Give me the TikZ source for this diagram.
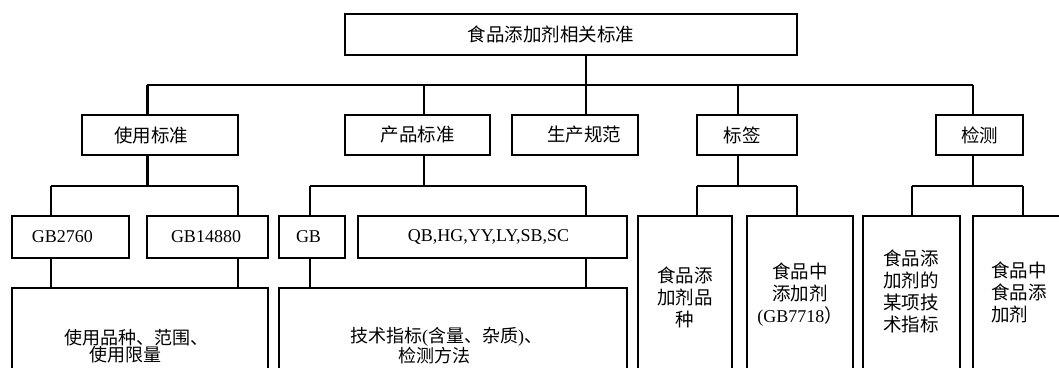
\documentclass[tikz,border=0pt]{standalone}
\usepackage{fontspec}
\setmainfont{Liberation Serif}
\newfontfamily\cjk{Noto Sans CJK SC}
\newcommand\fs{\fontsize{18.5}{22}\selectfont}
\newcommand\fl{\fontsize{18}{22}\selectfont}
\begin{document}
\begin{tikzpicture}[x=1pt,y=-1pt,
  box/.style={draw, line width=1.5pt, inner sep=0pt, font=\fs},
  latbox/.style={box, font=\fl},
  openbox/.style={draw=none, inner sep=0pt},
  conn/.style={line width=1.5pt},
  thickconn/.style={line width=3pt},
  txt/.style={font=\fs, align=center, inner sep=0pt}]
\useasboundingbox (0,0) rectangle (1059,367);
% level 1
\node[box, minimum width=452pt, minimum height=41pt] (top) at (571,34.5) {\cjk 食品添加剂相关标准\kern40pt};
% level 2
\node[box, minimum width=156pt, minimum height=40pt] (sy) at (160,135) {\cjk 使用标准\kern18pt};
\node[box, minimum width=145pt, minimum height=40pt] (cp) at (417.5,135) {\cjk 产品标准};
\node[box, minimum width=126pt, minimum height=40pt] (sc) at (575,135) {\kern18pt\cjk 生产规范};
\node[box, minimum width=100pt, minimum height=40pt] (bq) at (747,135) {\cjk 标签\kern10pt};
\node[box, minimum width=87pt, minimum height=40pt] (jc) at (979.5,135) {\cjk 检测};
% level 3
\node[latbox, minimum width=117pt, minimum height=42pt] (g1) at (70.5,237) {GB2760\kern16pt};
\node[latbox, minimum width=121pt, minimum height=42pt] (g2) at (207.5,237) {GB14880\kern3pt};
\node[latbox, minimum width=66pt, minimum height=42pt] (g3) at (312,237) {GB\kern7pt};
\node[latbox, minimum width=269pt, minimum height=42pt] (g4) at (492.5,237) {QB,HG,YY,LY,SB,SC\kern8pt};
% open boxes (bottom cut off)
\node[openbox, minimum width=256pt, minimum height=90pt] (u1) at (140,333) {};
\node[openbox, minimum width=348pt, minimum height=90pt] (u2) at (453,333) {};
\node[openbox, minimum width=94pt, minimum height=160pt] (t1) at (685,296) {};
\node[openbox, minimum width=106pt, minimum height=160pt] (t2) at (800,296) {};
\node[openbox, minimum width=97pt, minimum height=160pt] (t3) at (911.5,296) {};
\node[openbox, minimum width=110pt, minimum height=160pt] (t4) at (1028,296) {};
\foreach \b in {u1,u2,t1,t2,t3}{
  \draw[conn] (\b.south west) |- (\b.north east) -- (\b.south east);
}
\draw[conn] (t4.south west) |- (t4.north east);
% texts in open boxes
\node[txt, font=\fontsize{18}{17.5}\selectfont] (u1t) at (136,346) {\cjk 使用品种、范围、\\\cjk 使用限量\kern22pt};
\node[txt, font=\fontsize{18}{17.5}\selectfont] (u2t) at (446,346) {{\cjk 技术指标}({\cjk 含量、杂质})\cjk 、\\\cjk 检测方法\kern24pt};
\node[txt] (t1t) at (685,297) {\cjk 食品添\\\cjk 加剂品\\\cjk 种};
\node[txt] (t2t) at (800,295) {\cjk 食品中\\\cjk 添加剂\\{\fl(GB7718}{\cjk ）}};
\node[txt] (t3t) at (911,291.5) {\cjk 食品添\\\cjk 加剂的\\\cjk 某项技\\\cjk 术指标};
\node[txt, anchor=west, align=left] (t4t) at (991,292) {\cjk 食品中\\\cjk 食品添\\\cjk 加剂};
% connectors level 1 -> 2
\coordinate (j1) at (147,85);
\coordinate (j2) at (424,85);
\coordinate (j3) at (586,85);
\coordinate (j4) at (738,85);
\coordinate (j5) at (973,85);
\draw[conn] (top.south -| j3) -- (j3);
\draw[conn] (j1) -- (j5);
\draw[thickconn] (j1) -- (sy.north -| j1);
\draw[conn] (j2) -- (cp.north -| j2);
\draw[conn] (j3) -- (sc.north -| j3);
\draw[conn] (j4) -- (bq.north -| j4);
\draw[conn] (j5) -- (jc.north -| j5);
% 使用标准 branch
\coordinate (k1) at (147,186);
\coordinate (k1a) at (51,186);
\coordinate (k1b) at (238,186);
\draw[thickconn] (sy.south -| k1) -- (k1);
\draw[conn] (k1a) -- (k1b);
\draw[conn] (k1a) -- (g1.north -| k1a);
\draw[conn] (k1b) -- (g2.north -| k1b);
\draw[conn] (g1.south -| k1a) -- (u1.north -| k1a);
\draw[conn] (g2.south -| k1b) -- (u1.north -| k1b);
% 产品标准 branch
\coordinate (k2) at (424,186);
\coordinate (k2a) at (310,186);
\coordinate (k2b) at (586,186);
\draw[conn] (cp.south -| k2) -- (k2);
\draw[conn] (k2a) -- (k2b);
\draw[conn] (k2a) -- (g3.north -| k2a);
\draw[conn] (k2b) -- (g4.north -| k2b);
\draw[conn] (g3.south -| k2a) -- (u2.north -| k2a);
\draw[conn] (g4.south -| k2b) -- (u2.north -| k2b);
% 标签 branch
\coordinate (k3) at (738,186);
\coordinate (k3a) at (697,186);
\coordinate (k3b) at (797,186);
\draw[conn] (bq.south -| k3) -- (k3);
\draw[conn] (k3a) -- (k3b);
\draw[conn] (k3a) -- (t1.north -| k3a);
\draw[conn] (k3b) -- (t2.north -| k3b);
% 检测 branch
\coordinate (k4) at (973,186);
\coordinate (k4a) at (912,186);
\coordinate (k4b) at (1023,186);
\draw[conn] (jc.south -| k4) -- (k4);
\draw[conn] (k4a) -- (k4b);
\draw[conn] (k4a) -- (t3.north -| k4a);
\draw[conn] (k4b) -- (t4.north -| k4b);
\end{tikzpicture}
\end{document}
